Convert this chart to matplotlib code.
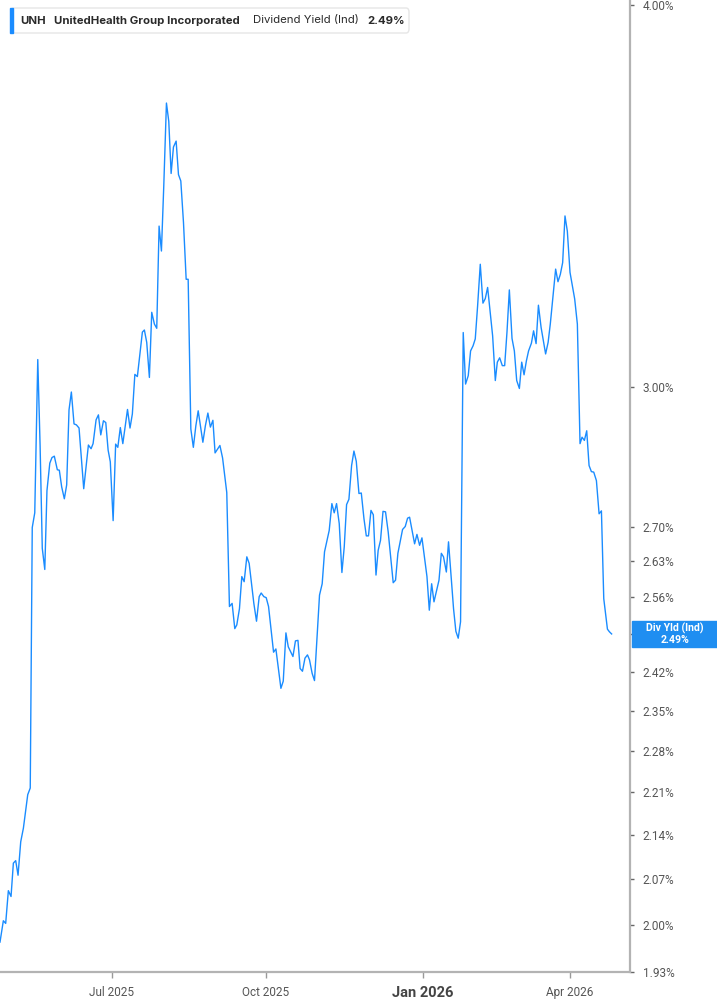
import matplotlib
matplotlib.use("Agg")
import matplotlib.pyplot as plt
import matplotlib.patches as mpatches
from matplotlib.ticker import NullLocator
import pandas as pd

# days since 2025-04-25
days = [0.0, 2.0, 3.4, 5.0, 6.6, 8.0, 9.4, 10.8, 12.4, 14.0,
        16.6, 18.1, 19.3, 20.8, 22.6, 24.0, 25.3, 26.8, 28.1, 29.8,
        31.1, 32.5, 34.3, 35.5, 36.9, 38.5, 39.9, 41.3, 42.7, 44.3,
        45.7, 47.3, 50.1, 52.9, 54.5, 55.7, 57.5, 58.9, 60.3, 61.9,
        63.3, 64.7, 66.0, 67.7, 69.2, 70.5, 72.0, 73.5, 76.3, 77.8,
        79.2, 80.7, 82.2, 85.2, 86.4, 87.8, 89.4, 90.8, 92.4, 93.8,
        95.2, 96.6, 98.0, 99.6, 101.0, 102.4, 103.8, 105.4, 106.8, 108.2,
        109.8, 111.4, 112.6, 114.2, 115.7, 117.2, 118.6, 121.4, 122.9, 124.4,
        125.9, 127.4, 128.7, 131.6, 133.2, 135.7, 137.3, 138.9, 140.5, 141.7,
        143.3, 144.7, 146.1, 147.7, 149.1, 151.9, 153.5, 155.1, 156.3, 157.9,
        159.3, 160.7, 163.7, 165.1, 168.1, 169.5, 171.1, 172.5, 175.3, 176.8,
        178.3, 179.6, 181.0, 182.5, 184.0, 185.2, 186.8, 188.2, 191.2, 192.8,
        194.2, 197.0, 198.6, 200.0, 201.4, 203.0, 204.6, 206.0, 207.4, 208.8,
        210.4, 211.8, 213.2, 214.8, 216.2, 217.8, 219.2, 220.5, 222.0, 223.4,
        225.0, 226.3, 227.7, 229.2, 230.7, 232.3, 235.3, 236.7, 238.1, 240.9,
        242.5, 243.9, 245.1, 248.1, 249.5, 251.1, 252.5, 255.5, 256.9, 258.3,
        259.7, 262.7, 264.1, 265.4, 267.1, 268.4, 271.4, 272.8, 274.2, 275.6,
        277.2, 278.6, 280.2, 281.6, 283.1, 284.4, 285.8, 287.4, 289.0, 290.4,
        291.8, 294.8, 296.4, 297.6, 299.0, 300.6, 302.0, 303.4, 304.8, 306.4,
        307.8, 309.2, 310.8, 312.2, 313.6, 315.0, 316.3, 318.0, 319.3, 320.8,
        322.2, 323.8, 326.5, 328.0, 329.3, 332.5, 333.9, 335.3, 336.7, 338.1,
        339.5, 341.1, 343.9, 345.5, 347.1, 348.3, 349.7, 351.1, 352.5, 353.9,
        355.3, 356.9, 358.5, 359.9, 361.3, 363.5, 364.7, 366.0]

# dividend yield (%)
yields = [1.974, 2.006, 2.002, 2.052, 2.043, 2.095, 2.099, 2.076, 2.129, 2.151,
          2.206, 2.217, 2.698, 2.728, 3.062, 2.869, 2.656, 2.614, 2.774, 2.832,
          2.844, 2.847, 2.818, 2.817, 2.782, 2.757, 2.786, 2.948, 2.988, 2.917,
          2.915, 2.908, 2.778, 2.871, 2.863, 2.874, 2.926, 2.937, 2.893, 2.924,
          2.920, 2.860, 2.835, 2.712, 2.873, 2.866, 2.909, 2.874, 2.949, 2.908,
          2.939, 3.028, 3.023, 3.126, 3.131, 3.102, 3.021, 3.173, 3.145, 3.135,
          3.386, 3.323, 3.490, 3.715, 3.664, 3.523, 3.594, 3.610, 3.520, 3.503,
          3.395, 3.253, 3.253, 2.906, 2.866, 2.913, 2.946, 2.877, 2.913, 2.941,
          2.910, 2.925, 2.854, 2.870, 2.843, 2.770, 2.542, 2.548, 2.500, 2.507,
          2.538, 2.600, 2.590, 2.639, 2.626, 2.548, 2.514, 2.561, 2.568, 2.561,
          2.559, 2.542, 2.456, 2.462, 2.390, 2.403, 2.492, 2.466, 2.448, 2.477,
          2.478, 2.426, 2.421, 2.445, 2.451, 2.442, 2.417, 2.404, 2.564, 2.586,
          2.649, 2.692, 2.747, 2.728, 2.747, 2.706, 2.608, 2.659, 2.745, 2.756,
          2.827, 2.858, 2.836, 2.768, 2.769, 2.716, 2.681, 2.681, 2.733, 2.724,
          2.603, 2.652, 2.672, 2.731, 2.730, 2.689, 2.588, 2.593, 2.646, 2.694,
          2.700, 2.717, 2.719, 2.665, 2.684, 2.662, 2.677, 2.600, 2.535, 2.586,
          2.551, 2.593, 2.646, 2.639, 2.609, 2.669, 2.538, 2.495, 2.482, 2.513,
          3.125, 3.006, 3.025, 3.082, 3.094, 3.110, 3.188, 3.290, 3.195, 3.206,
          3.233, 3.117, 3.014, 3.056, 3.066, 3.048, 3.048, 3.127, 3.227, 3.111,
          3.082, 3.014, 2.996, 3.056, 3.027, 3.059, 3.082, 3.100, 3.129, 3.099,
          3.190, 3.137, 3.075, 3.102, 3.145, 3.278, 3.247, 3.265, 3.294, 3.412,
          3.373, 3.270, 3.205, 3.145, 2.874, 2.888, 2.881, 2.902, 2.827, 2.814,
          2.813, 2.795, 2.726, 2.732, 2.557, 2.499, 2.494, 2.490]

ytick_vals = [1.93, 2.00, 2.07, 2.14, 2.21, 2.28, 2.35, 2.42, 2.49, 2.56, 2.63, 2.70, 3.00, 4.00]
xtick_dates = ["2025-07-01", "2025-10-01", "2026-01-03", "2026-04-01"]
xtick_labels = ["Jul 2025", "Oct 2025", "Jan 2026", "Apr 2026"]
last_val = 2.49

line_col = '#1a8cff'
W, H = 717, 1005

start = pd.Timestamp("2025-04-25")
dates = start + pd.to_timedelta(days, unit="D")

fig = plt.figure(figsize=(W / 100, H / 100), dpi=100)
ax = fig.add_axes([0, 33 / H, 630 / W, 972 / H])

ax.plot(dates, yields, color=line_col, lw=1.0)

ax.set_yscale('log')
ax.set_ylim(1.933, 4.015)
ax.set_xlim(start, start + pd.Timedelta(days=377))

for s in ['left', 'top']:
    ax.spines[s].set_visible(False)
for s in ['right', 'bottom']:
    ax.spines[s].set_color('#b3b3b3')
    ax.spines[s].set_linewidth(1.6)

ax.yaxis.tick_right()
ax.yaxis.set_minor_locator(NullLocator())
ax.set_yticks(ytick_vals)
# the 2.49 label sits under the value tag, so leave it blank
ax.set_yticklabels(["" if v == last_val else f"{v:.2f}%" for v in ytick_vals],
                   fontfamily='Roboto')
ax.tick_params(axis='y', length=3, width=1, colors='#666666', labelcolor='#555555',
               labelsize=8.5, pad=6)

ax.xaxis.set_minor_locator(NullLocator())
ax.set_xticks(pd.to_datetime(xtick_dates))
ax.set_xticklabels(xtick_labels, fontfamily='Roboto')
ax.tick_params(axis='x', length=4, width=1, colors='#999999', labelcolor='#555555',
               labelsize=8.5, pad=6)
for lbl in ax.get_xticklabels():
    if lbl.get_text().startswith('Jan'):
        lbl.set_fontweight('bold')
        lbl.set_fontsize(10.5)
        lbl.set_color('#444444')

# last value tag on the right axis
fig.canvas.draw()
ypix = ax.transData.transform((ax.get_xlim()[0], last_val))[1]
tag = mpatches.Rectangle((632 / W, (ypix - 13) / H), 85 / W, 26 / H,
                         transform=fig.transFigure, color='#1f8ef1', zorder=5)
fig.patches.append(tag)
fig.text(675 / W, (ypix + 6) / H, "Div Yld (Ind)", color='white', fontsize=7.6,
         fontweight='bold', ha='center', va='center', fontfamily='Roboto', zorder=6)
fig.text(675 / W, (ypix - 6) / H, f"{last_val:.2f}%", color='white', fontsize=7.6,
         fontweight='bold', ha='center', va='center', fontfamily='Roboto', zorder=6)

# header box
box = mpatches.FancyBboxPatch((11 / W, (H - 33) / H), 398 / W, 25 / H,
                              boxstyle="round,pad=0,rounding_size=0.004",
                              transform=fig.transFigure, facecolor='white',
                              edgecolor='#e6e6e6', lw=1, zorder=3)
fig.patches.append(box)
bar = mpatches.Rectangle((10 / W, (H - 33) / H), 3 / W, 25 / H,
                         transform=fig.transFigure, color=line_col, zorder=4)
fig.patches.append(bar)
ty = (H - 20.5) / H
fig.text(20 / W, ty, "UNH", fontsize=8.2, fontweight='bold', color='#2a2a2a',
         va='center', fontfamily='Inter')
fig.text(54 / W, ty, "UnitedHealth Group Incorporated", fontsize=8.2, fontweight='bold',
         color='#2a2a2a', va='center', fontfamily='Inter')
fig.text(253 / W, ty, "Dividend Yield (Ind)", fontsize=8.2, color='#2a2a2a',
         va='center', fontfamily='Inter')
fig.text(367 / W, ty, f"{last_val:.2f}%", fontsize=8.2, fontweight='bold',
         color='#2a2a2a', va='center', fontfamily='Inter')

fig.savefig("out.png", dpi=100)
